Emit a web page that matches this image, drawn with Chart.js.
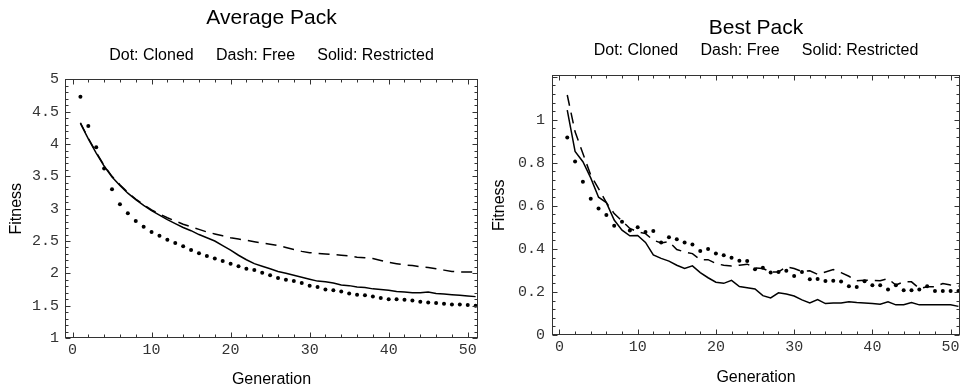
<!DOCTYPE html>
<html>
<head>
<meta charset="utf-8">
<script src="https://cdn.jsdelivr.net/npm/chart.js@4.4.0/dist/chart.umd.min.js"></script>
<style>
  body { margin: 0; background: #fff; }
  .box { position: absolute; top: 0; width: 482px; height: 390px; }
</style>
</head>
<body>
<div class="box" style="left:0"><canvas id="avgChart" width="482" height="390"></canvas></div>
<div class="box" style="left:482px"><canvas id="bestChart" width="482" height="390"></canvas></div>
<script>
const generations = [1, 2, 3, 4, 5, 6, 7, 8, 9, 10, 11, 12, 13, 14, 15, 16, 17, 18, 19, 20,
  21, 22, 23, 24, 25, 26, 27, 28, 29, 30, 31, 32, 33, 34, 35, 36, 37, 38, 39, 40,
  41, 42, 43, 44, 45, 46, 47, 48, 49, 50, 51];

// Average Pack
const avgCloned = [4.73, 4.28, 3.95, 3.62, 3.30, 3.07, 2.93, 2.81, 2.72, 2.64, 2.58, 2.52, 2.47, 2.42, 2.36, 2.31, 2.27,
  2.23, 2.19, 2.15, 2.11, 2.07, 2.05, 2.01, 1.97, 1.93, 1.90, 1.88, 1.85, 1.81, 1.79, 1.75, 1.74, 1.72,
  1.69, 1.67, 1.66, 1.64, 1.62, 1.60, 1.60, 1.59, 1.58, 1.56, 1.55, 1.54, 1.53, 1.52, 1.52, 1.51, 1.50];
const avgFree = [4.33, 4.09, 3.87, 3.67, 3.50, 3.37, 3.25, 3.15, 3.06, 2.98, 2.92, 2.86, 2.81, 2.76, 2.72, 2.68, 2.64,
  2.61, 2.58, 2.55, 2.53, 2.51, 2.49, 2.47, 2.45, 2.43, 2.40, 2.37, 2.34, 2.32, 2.31, 2.30, 2.29, 2.28,
  2.27, 2.25, 2.24, 2.23, 2.20, 2.17, 2.15, 2.13, 2.12, 2.10, 2.09, 2.07, 2.05, 2.03, 2.02, 2.02, 2.02];
const avgRestricted = [4.32, 4.08, 3.86, 3.66, 3.49, 3.36, 3.24, 3.14, 3.05, 2.97, 2.90, 2.83, 2.77, 2.71, 2.66, 2.60, 2.55,
  2.50, 2.43, 2.36, 2.28, 2.21, 2.15, 2.11, 2.07, 2.03, 2.00, 1.97, 1.94, 1.91, 1.88, 1.87, 1.85, 1.82,
  1.81, 1.79, 1.78, 1.76, 1.75, 1.74, 1.72, 1.71, 1.70, 1.70, 1.71, 1.69, 1.68, 1.67, 1.66, 1.65, 1.64];

// Best Pack
const bestCloned = [0.918, 0.806, 0.712, 0.633, 0.588, 0.557, 0.508, 0.526, 0.486, 0.500, 0.478, 0.483, 0.430, 0.454,
  0.445, 0.430, 0.420, 0.390, 0.400, 0.379, 0.370, 0.359, 0.345, 0.344, 0.306, 0.312, 0.290, 0.293, 0.298,
  0.274, 0.293, 0.259, 0.260, 0.251, 0.252, 0.248, 0.227, 0.223, 0.250, 0.231, 0.231, 0.211, 0.231, 0.208,
  0.208, 0.211, 0.227, 0.204, 0.204, 0.204, 0.204];
const bestFree = [1.115, 0.944, 0.843, 0.743, 0.680, 0.615, 0.564, 0.530, 0.495, 0.479, 0.471, 0.440, 0.428, 0.433,
  0.397, 0.386, 0.378, 0.350, 0.350, 0.332, 0.324, 0.320, 0.324, 0.329, 0.312, 0.309, 0.293, 0.293, 0.316,
  0.309, 0.295, 0.298, 0.282, 0.293, 0.304, 0.290, 0.273, 0.252, 0.254, 0.254, 0.252, 0.262, 0.232, 0.247,
  0.247, 0.216, 0.224, 0.224, 0.239, 0.232, 0.227];
const bestRestricted = [1.045, 0.853, 0.805, 0.730, 0.640, 0.615, 0.534, 0.487, 0.461, 0.462, 0.430, 0.372, 0.356, 0.343,
  0.324, 0.309, 0.321, 0.290, 0.266, 0.245, 0.240, 0.254, 0.225, 0.220, 0.214, 0.183, 0.172, 0.196, 0.190,
  0.181, 0.163, 0.149, 0.165, 0.146, 0.149, 0.149, 0.154, 0.151, 0.149, 0.146, 0.143, 0.154, 0.140, 0.141,
  0.151, 0.140, 0.141, 0.141, 0.141, 0.141, 0.133];

const legendText = 'Dot: Cloned     Dash: Free     Solid: Restricted';

Chart.defaults.font.family = "'Liberation Sans', Arial, sans-serif";
Chart.defaults.color = '#000';

// frame with inward ticks on all four sides, like the original plot
const frameTicks = {
  id: 'frameTicks',
  afterDatasetsDraw(chart, args, opts) {
    const {ctx, chartArea: a, scales: {x, y}} = chart;
    const l = Math.round(a.left) + 0.5, r = Math.round(a.right) - 0.5;
    const t = Math.round(a.top) + 0.5, b = Math.round(a.bottom) - 0.5;
    ctx.save();
    ctx.strokeStyle = '#333';
    ctx.lineWidth = 1;
    ctx.strokeRect(l, t, r - l, b - t);
    ctx.beginPath();
    const xr = Math.round(opts.xMajor / opts.xMinor);
    for (let k = Math.ceil(x.min / opts.xMinor); k * opts.xMinor <= x.max; k++) {
      const px = Math.round(x.getPixelForValue(k * opts.xMinor)) + 0.5;
      const len = k % xr === 0 ? 5 : 3;
      ctx.moveTo(px, b); ctx.lineTo(px, b - len);
      ctx.moveTo(px, t); ctx.lineTo(px, t + len);
    }
    const yr = Math.round(opts.yMajor / opts.yMinor);
    for (let k = Math.ceil(y.min / opts.yMinor - 1e-6); k * opts.yMinor <= y.max + 1e-6; k++) {
      const py = Math.round(y.getPixelForValue(k * opts.yMinor)) + 0.5;
      const len = k % yr === 0 ? 5 : 3;
      ctx.moveTo(l, py); ctx.lineTo(l + len, py);
      ctx.moveTo(r, py); ctx.lineTo(r - len, py);
    }
    ctx.stroke();
    ctx.restore();
  }
};

function makeChart(id, lay) {
  const toXY = arr => arr.map((v, i) => ({x: generations[i], y: v}));
  return new Chart(document.getElementById(id), {
    type: 'line',
    data: {
      datasets: [
        {
          label: 'Cloned',
          data: toXY(lay.cloned),
          showLine: false,
          pointRadius: 2,
          pointBorderWidth: 0,
          pointBackgroundColor: '#000',
          borderColor: '#000'
        },
        {
          label: 'Free',
          data: toXY(lay.free),
          borderColor: '#000',
          borderWidth: 1.5,
          borderDash: [11, 7],
          pointRadius: 0
        },
        {
          label: 'Restricted',
          data: toXY(lay.restricted),
          borderColor: '#000',
          borderWidth: 1.5,
          pointRadius: 0
        }
      ]
    },
    options: {
      responsive: false,
      animation: false,
      layout: {padding: {top: 0, left: 0, right: lay.padRight, bottom: 0}},
      plugins: {
        legend: {display: false},
        tooltip: {enabled: false},
        title: {
          display: true,
          text: lay.title,
          fullSize: false,
          font: {size: 21, weight: 'normal'},
          padding: {top: lay.titleTop, bottom: 0}
        },
        subtitle: {
          display: true,
          text: legendText,
          fullSize: false,
          font: {size: 16},
          padding: {top: lay.subTop, bottom: lay.subBottom}
        },
        frameTicks: {xMinor: 2, xMajor: 10, yMinor: lay.yMinor, yMajor: lay.yStep}
      },
      scales: {
        x: {
          type: 'linear',
          min: -0.95,
          max: lay.xMax,
          afterFit: s => { s.height = lay.xHeight; },
          grid: {display: false, drawTicks: false},
          border: {display: false},
          ticks: {
            stepSize: 10,
            includeBounds: false,
            maxRotation: 0,
            padding: 3,
            color: '#333',
            font: {family: "'Liberation Mono', monospace", size: 15},
            callback: v => String(v)
          },
          title: {
            display: true,
            text: 'Generation',
            font: {size: 16},
            padding: {top: 0, bottom: lay.genBottom}
          }
        },
        y: {
          min: lay.yMin,
          max: lay.yMax,
          afterFit: s => { s.width = lay.yWidth; },
          afterBuildTicks: s => { s.ticks = s.ticks.filter(t => t.value <= lay.yLabelMax + 1e-6); },
          grid: {display: false, drawTicks: false},
          border: {display: false},
          ticks: {
            stepSize: lay.yStep,
            includeBounds: false,
            padding: lay.yPad,
            color: '#333',
            font: {family: "'Liberation Mono', monospace", size: 15},
            callback: v => String(+v.toFixed(2))
          },
          title: {
            display: true,
            text: 'Fitness',
            font: {size: 16},
            padding: {top: lay.fitTop, bottom: 0}
          }
        }
      }
    },
    plugins: [frameTicks]
  });
}

makeChart('avgChart', {
  title: 'Average Pack',
  cloned: avgCloned, free: avgFree, restricted: avgRestricted,
  yMin: 1, yMax: 5, yStep: 0.5, yMinor: 0.1, yLabelMax: 5, xMax: 51.3,
  padRight: 4, yWidth: 65, xHeight: 52, yPad: 6,
  titleTop: 6, subTop: 15, subBottom: 14, genBottom: 1, fitTop: 7
});

makeChart('bestChart', {
  title: 'Best Pack',
  cloned: bestCloned, free: bestFree, restricted: bestRestricted,
  yMin: 0, yMax: 1.206, yStep: 0.2, yMinor: 0.04, yLabelMax: 1, xMax: 51.2,
  padRight: 1, yWidth: 70, xHeight: 55, yPad: 7,
  titleTop: 16, subTop: 0, subBottom: 15, genBottom: 3, fitTop: 8
});
</script>
</body>
</html>
